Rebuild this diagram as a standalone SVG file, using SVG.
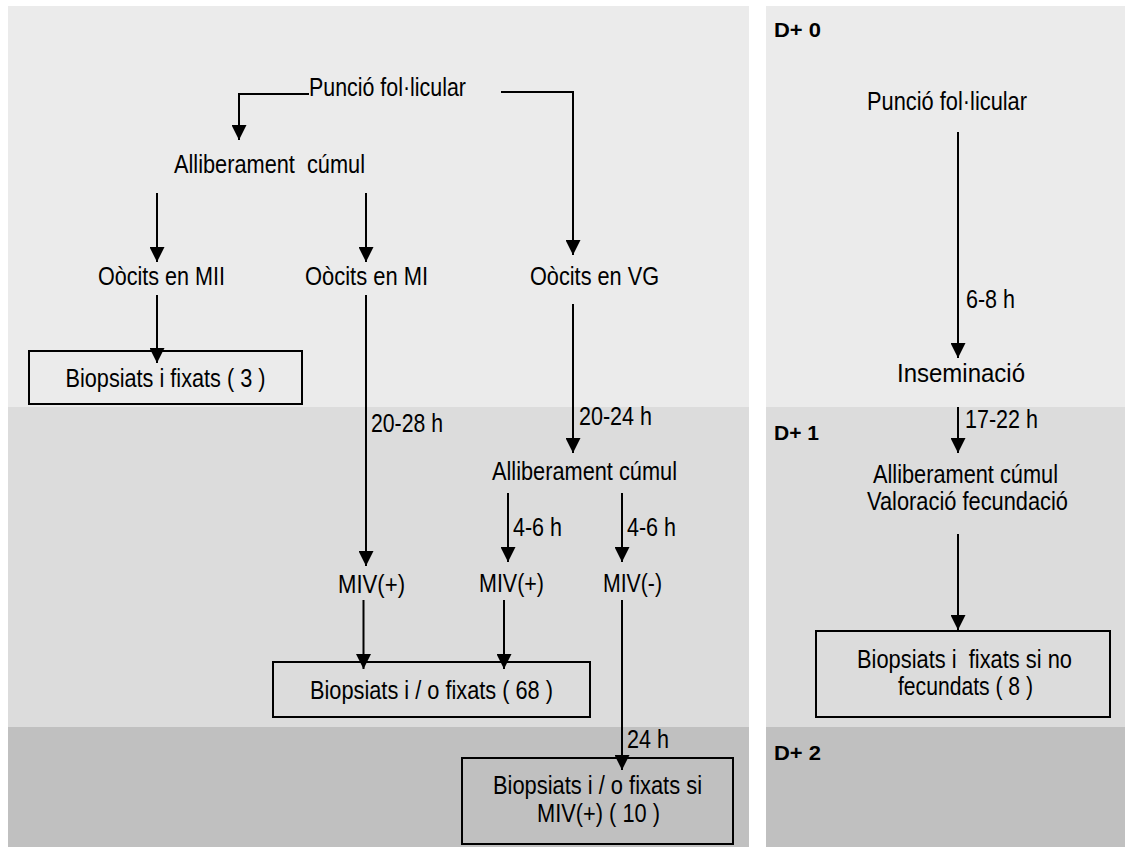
<svg xmlns="http://www.w3.org/2000/svg" width="1125" height="847" viewBox="0 0 1125 847">
<defs>
<style>
.t{font-family:"Liberation Sans Narrow","Liberation Sans",Arial,sans-serif;font-size:25px;fill:#000}
.m{text-anchor:middle}
.d{font-family:"Liberation Sans",Arial,sans-serif;font-weight:bold;font-size:20px;fill:#000}
.c{fill:none;stroke:#000;stroke-width:2}
.b{fill:none;stroke:#000;stroke-width:2}
</style>
<marker id="ah" markerUnits="userSpaceOnUse" markerWidth="15" markerHeight="15" viewBox="0 0 15 15" refX="15" refY="7.5" orient="auto">
<path d="M0,0 L15,7.5 L0,15 z" fill="#000"/>
</marker>
</defs>
<rect width="1125" height="847" fill="#ffffff"/>
<g id="bands">
<rect x="8" y="6" width="741" height="401" fill="#ebebeb"/>
<rect x="8" y="407" width="741" height="320" fill="#dcdcdc"/>
<rect x="8" y="727" width="741" height="120" fill="#c0c0c0"/>
<rect x="766" y="6" width="359" height="401" fill="#ebebeb"/>
<rect x="766" y="407" width="359" height="320" fill="#dcdcdc"/>
<rect x="766" y="727" width="359" height="120" fill="#c0c0c0"/>
</g>
<g id="day-labels">
<text class="d" x="774" y="37" textLength="47" lengthAdjust="spacingAndGlyphs">D+ 0</text>
<text class="d" x="774" y="440" textLength="45" lengthAdjust="spacingAndGlyphs">D+ 1</text>
<text class="d" x="774" y="760" textLength="47" lengthAdjust="spacingAndGlyphs">D+ 2</text>
</g>
<g id="connectors">
<path class="c" d="M309,94 H239 V140" marker-end="url(#ah)"/>
<path class="c" d="M501,92 H573 V255" marker-end="url(#ah)"/>
<path class="c" d="M157,193 V262" marker-end="url(#ah)"/>
<path class="c" d="M366,193 V262" marker-end="url(#ah)"/>
<path class="c" d="M157,295 V363" marker-end="url(#ah)"/>
<path class="c" d="M366,295 V566" marker-end="url(#ah)"/>
<path class="c" d="M573,304 V453" marker-end="url(#ah)"/>
<path class="c" d="M508,493 V562" marker-end="url(#ah)"/>
<path class="c" d="M622,493 V562" marker-end="url(#ah)"/>
<path class="c" d="M363.5,600 V669" marker-end="url(#ah)"/>
<path class="c" d="M504,600 V669" marker-end="url(#ah)"/>
<path class="c" d="M622,600 V770" marker-end="url(#ah)"/>
<path class="c" d="M958,132 V358" marker-end="url(#ah)"/>
<path class="c" d="M958,407 V453" marker-end="url(#ah)"/>
<path class="c" d="M958,534 V630" marker-end="url(#ah)"/>
</g>
<g id="edge-labels">
<text class="t" x="371" y="432" textLength="72" lengthAdjust="spacingAndGlyphs">20-28 h</text>
<text class="t" x="579" y="425" textLength="73" lengthAdjust="spacingAndGlyphs">20-24 h</text>
<text class="t" x="513" y="536" textLength="49" lengthAdjust="spacingAndGlyphs">4-6 h</text>
<text class="t" x="627" y="536" textLength="49" lengthAdjust="spacingAndGlyphs">4-6 h</text>
<text class="t" x="627" y="748" textLength="42" lengthAdjust="spacingAndGlyphs">24 h</text>
<text class="t" x="966" y="308" textLength="49" lengthAdjust="spacingAndGlyphs">6-8 h</text>
<text class="t" x="965" y="428" textLength="73" lengthAdjust="spacingAndGlyphs">17-22 h</text>
</g>
<g id="n-puncio-left"><text class="t m" x="387.5" y="96" textLength="157" lengthAdjust="spacingAndGlyphs">Punció fol·licular</text></g>
<g id="n-allib-left"><text class="t m" x="269.5" y="173" xml:space="preserve" textLength="191" lengthAdjust="spacingAndGlyphs">Alliberament  cúmul</text></g>
<g id="n-mii"><text class="t m" x="161.5" y="285" textLength="127" lengthAdjust="spacingAndGlyphs">Oòcits en MII</text></g>
<g id="n-mi"><text class="t m" x="366.5" y="285" textLength="123" lengthAdjust="spacingAndGlyphs">Oòcits en MI</text></g>
<g id="n-vg"><text class="t m" x="594.5" y="285" textLength="129" lengthAdjust="spacingAndGlyphs">Oòcits en VG</text></g>
<g id="n-box3"><rect class="b" x="29" y="351" width="273" height="53"/><text class="t m" x="165.5" y="387" textLength="200" lengthAdjust="spacingAndGlyphs">Biopsiats i fixats ( 3 )</text></g>
<g id="n-allib-mid"><text class="t m" x="584.5" y="480" textLength="185" lengthAdjust="spacingAndGlyphs">Alliberament cúmul</text></g>
<g id="n-miv1"><text class="t m" x="371.5" y="593" textLength="67" lengthAdjust="spacingAndGlyphs">MIV(+)</text></g>
<g id="n-miv2"><text class="t m" x="511.5" y="592" textLength="65" lengthAdjust="spacingAndGlyphs">MIV(+)</text></g>
<g id="n-miv3"><text class="t m" x="632.5" y="592" textLength="59" lengthAdjust="spacingAndGlyphs">MIV(-)</text></g>
<g id="n-box68"><rect class="b" x="273" y="662" width="317" height="55"/><text class="t m" x="431.5" y="699" textLength="243" lengthAdjust="spacingAndGlyphs">Biopsiats i / o fixats ( 68 )</text></g>
<g id="n-box10"><rect class="b" x="462" y="758" width="271" height="86"/><text class="t m" x="597.5" y="794" textLength="209" lengthAdjust="spacingAndGlyphs">Biopsiats i / o fixats si</text><text class="t m" x="598.5" y="822" textLength="123" lengthAdjust="spacingAndGlyphs">MIV(+) ( 10 )</text></g>
<g id="n-puncio-right"><text class="t m" x="947" y="110" textLength="160" lengthAdjust="spacingAndGlyphs">Punció fol·licular</text></g>
<g id="n-insem"><text class="t m" x="961" y="382" textLength="128" lengthAdjust="spacingAndGlyphs">Inseminació</text></g>
<g id="n-valor"><text class="t m" x="965.5" y="483" textLength="185" lengthAdjust="spacingAndGlyphs">Alliberament cúmul</text><text class="t m" x="967.5" y="510" textLength="201" lengthAdjust="spacingAndGlyphs">Valoració fecundació</text></g>
<g id="n-box8"><rect class="b" x="816" y="631" width="294" height="86"/><text class="t m" x="964.5" y="668" xml:space="preserve" textLength="215" lengthAdjust="spacingAndGlyphs">Biopsiats i  fixats si no</text><text class="t m" x="965.5" y="695" textLength="135" lengthAdjust="spacingAndGlyphs">fecundats ( 8 )</text></g>
</svg>
